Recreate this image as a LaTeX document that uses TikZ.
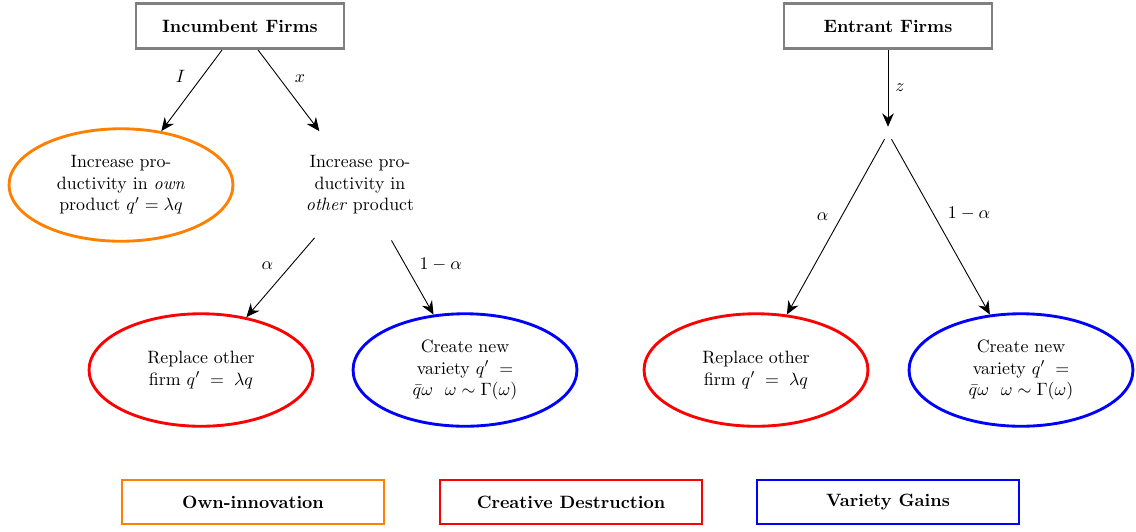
\documentclass[tikz,border=0pt]{standalone}
\usetikzlibrary{shapes.geometric,arrows.meta}
\begin{document}
\begin{tikzpicture}[x=0.56pt,y=-0.56pt,
  firm/.style={draw=gray,line width=1.6pt,minimum width=116.5pt,minimum height=25.2pt,font=\bfseries},
  oval/.style={ellipse,line width=1.6pt,minimum width=125.4pt,minimum height=63pt,align=center,inner sep=0pt},
  legendbox/.style={rectangle,line width=1.6pt,minimum width=146.7pt,minimum height=24.6pt,font=\bfseries},
  arr/.style={-{Stealth[length=7.5pt,width=6.5pt,inset=2.5pt]},line width=0.5pt},
  plain/.style={line width=0.5pt}
]
\useasboundingbox (0,0) rectangle (1136,531);

% top boxes
\node[firm] (inc) at (240,26) {Incumbent Firms};
\node[firm] (ent) at (888,26) {Entrant Firms};

% incumbent branch
\node[oval,draw=orange] (own) at (121,185) {Increase pro-\\ductivity in \emph{own}\\product $q'=\lambda q$};
\node[oval] (other) at (360,185) {Increase pro-\\ductivity in\\\emph{other} product};
\node[oval,draw=red] (repL) at (201,370) {Replace other\\firm $q' \;=\; \lambda q$};
\node[oval,draw=blue] (varL) at (465,370) {Create new\\variety $q' \;=$\\$\bar q\omega\ \ \omega \sim \Gamma(\omega)$};

% entrant branch
\node[inner sep=3.33pt] (split) at (888,133) {};
\node[oval,draw=red] (repR) at (756,370) {Replace other\\firm $q' \;=\; \lambda q$};
\node[oval,draw=blue] (varR) at (1021,370) {Create new\\variety $q' \;=$\\$\bar q\omega\ \ \omega \sim \Gamma(\omega)$};

% connectors
\draw[arr] (inc) -- node[pos=0.33,xshift=-12pt] (lI) {$I$} (own);
\draw[arr] (inc) -- node[pos=0.35,xshift=11.5pt] (lx) {$x$} (other);
\draw[arr] (other) -- node[pos=0.355,xshift=-12.9pt] (la1) {$\alpha$} (repL);
\draw[arr] (other) -- node[pos=0.32,xshift=20pt] (lb1) {$1-\alpha$} (varL);
\draw[arr] (ent) -- node[pos=0.49,xshift=6.7pt] (lz) {$z$} (split);
\draw[arr] (split) -- node[pos=0.44,xshift=-10.6pt] (la2) {$\alpha$} (repR);
\draw[arr] (split) -- node[pos=0.425,xshift=20pt] (lb2) {$1-\alpha$} (varR);

% legend
\node[legendbox,draw=orange] (lg1) at (253,502) {Own-innovation};
\node[legendbox,draw=red] (lg2) at (571,502) {Creative Destruction};
\node[legendbox,draw=blue] (lg3) at (888,502) {Variety Gains};
\end{tikzpicture}
\end{document}
